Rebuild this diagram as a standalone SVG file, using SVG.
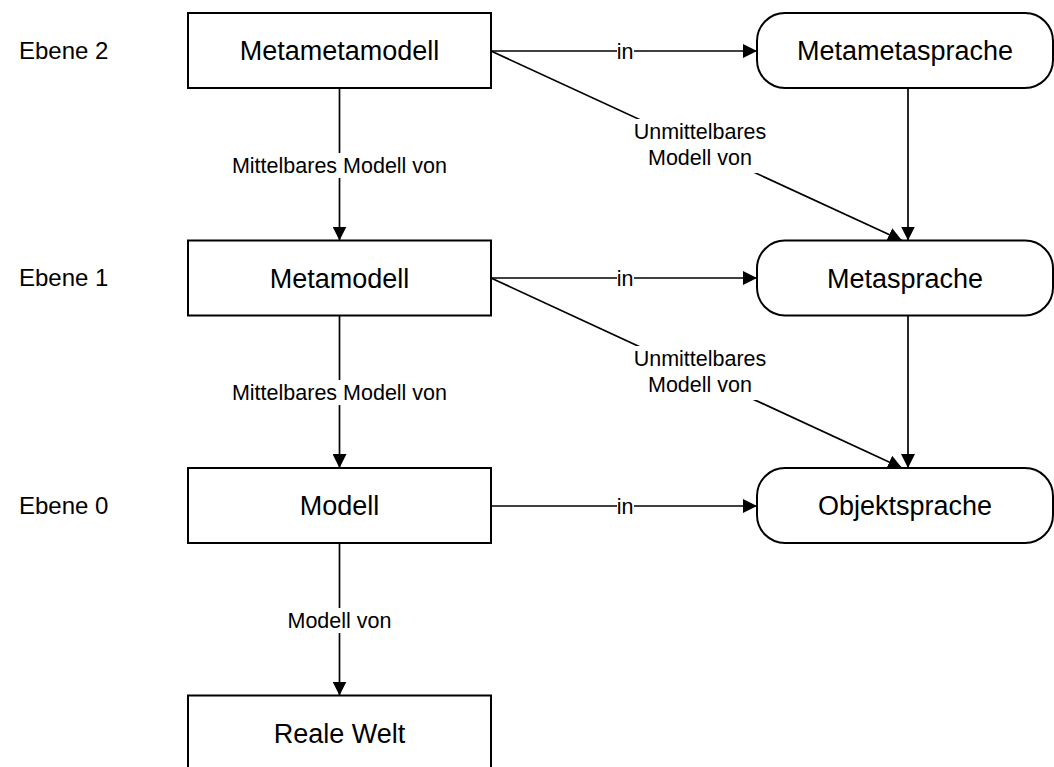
<svg xmlns="http://www.w3.org/2000/svg" width="1054" height="767" viewBox="0 0 1054 767">
  <style>
    .box { fill: #ffffff; stroke: #000000; stroke-width: 2; }
    .node-text { font-family: "Liberation Sans", Arial, sans-serif; font-size: 27px; fill: #000000; text-anchor: middle; }
    .level { font-family: "Liberation Sans", Arial, sans-serif; font-size: 24px; fill: #000000; }
    .edge { fill: none; stroke: #000000; stroke-width: 1.7; }
    .edge-label { font-family: "Liberation Sans", Arial, sans-serif; font-size: 21.5px; fill: #000000; text-anchor: middle; }
    .label-bg { fill: #ffffff; stroke: none; }
  </style>
  <defs>
    <marker id="arrow" viewBox="0 0 14 14" refX="14" refY="7" markerWidth="14" markerHeight="14" markerUnits="userSpaceOnUse" orient="auto">
      <path d="M0,0 L14,7 L0,14 Z" fill="#000000"/>
    </marker>
  </defs>

  <rect width="1054" height="767" fill="#ffffff"/>

  <!-- level captions -->
  <g id="levels">
    <text class="level" x="19" y="59">Ebene 2</text>
    <text class="level" x="19" y="286">Ebene 1</text>
    <text class="level" x="19" y="514">Ebene 0</text>
  </g>

  <!-- connectors -->
  <g id="connectors">
    <!-- in -->
    <line class="edge" x1="491" y1="51" x2="757" y2="51" marker-end="url(#arrow)"/>
    <line class="edge" x1="491" y1="278" x2="757" y2="278" marker-end="url(#arrow)"/>
    <line class="edge" x1="491" y1="506" x2="757" y2="506" marker-end="url(#arrow)"/>
    <!-- Mittelbares Modell von / Modell von -->
    <line class="edge" x1="339.5" y1="88" x2="339.5" y2="240.5" marker-end="url(#arrow)"/>
    <line class="edge" x1="339.5" y1="316" x2="339.5" y2="468" marker-end="url(#arrow)"/>
    <line class="edge" x1="339.5" y1="543" x2="339.5" y2="695.5" marker-end="url(#arrow)"/>
    <!-- language to language -->
    <line class="edge" x1="908" y1="88" x2="908" y2="240.5" marker-end="url(#arrow)"/>
    <line class="edge" x1="908" y1="316" x2="908" y2="468" marker-end="url(#arrow)"/>
    <!-- Unmittelbares Modell von -->
    <line class="edge" x1="491" y1="51" x2="902" y2="240.5" marker-end="url(#arrow)"/>
    <line class="edge" x1="491" y1="278" x2="902" y2="468" marker-end="url(#arrow)"/>

    <!-- labels -->
    <rect class="label-bg" x="617" y="40" width="17" height="22"/>
    <text class="edge-label" x="625" y="58.5">in</text>
    <rect class="label-bg" x="617" y="267" width="17" height="22"/>
    <text class="edge-label" x="625" y="285.5">in</text>
    <rect class="label-bg" x="617" y="495" width="17" height="22"/>
    <text class="edge-label" x="625" y="513.5">in</text>

    <rect class="label-bg" x="226" y="153" width="227" height="25"/>
    <text class="edge-label" x="339.5" y="172.5">Mittelbares Modell von</text>
    <rect class="label-bg" x="226" y="380" width="227" height="25"/>
    <text class="edge-label" x="339.5" y="399.5">Mittelbares Modell von</text>
    <rect class="label-bg" x="282" y="608" width="115" height="25"/>
    <text class="edge-label" x="339.5" y="627.5">Modell von</text>

    <rect class="label-bg" x="630" y="119" width="140" height="54"/>
    <text class="edge-label" x="700" y="139">Unmittelbares</text>
    <text class="edge-label" x="700" y="165">Modell von</text>
    <rect class="label-bg" x="630" y="346" width="140" height="54"/>
    <text class="edge-label" x="700" y="366">Unmittelbares</text>
    <text class="edge-label" x="700" y="392">Modell von</text>
  </g>

  <!-- models -->
  <g id="metametamodell">
    <rect class="box" x="188" y="13" width="303" height="75"/>
    <text class="node-text" x="339.5" y="60">Metametamodell</text>
  </g>
  <g id="metamodell">
    <rect class="box" x="188" y="240.5" width="303" height="75"/>
    <text class="node-text" x="339.5" y="287.5">Metamodell</text>
  </g>
  <g id="modell">
    <rect class="box" x="188" y="468" width="303" height="75"/>
    <text class="node-text" x="339.5" y="515">Modell</text>
  </g>
  <g id="reale-welt">
    <rect class="box" x="188" y="695.5" width="303" height="80"/>
    <text class="node-text" x="339.5" y="742.5">Reale Welt</text>
  </g>

  <!-- languages -->
  <g id="metametasprache">
    <rect class="box" x="757" y="13" width="296" height="75" rx="28" ry="28"/>
    <text class="node-text" x="905" y="60">Metametasprache</text>
  </g>
  <g id="metasprache">
    <rect class="box" x="757" y="240.5" width="296" height="75" rx="28" ry="28"/>
    <text class="node-text" x="905" y="287.5">Metasprache</text>
  </g>
  <g id="objektsprache">
    <rect class="box" x="757" y="468" width="296" height="75" rx="28" ry="28"/>
    <text class="node-text" x="905" y="515">Objektsprache</text>
  </g>
</svg>
